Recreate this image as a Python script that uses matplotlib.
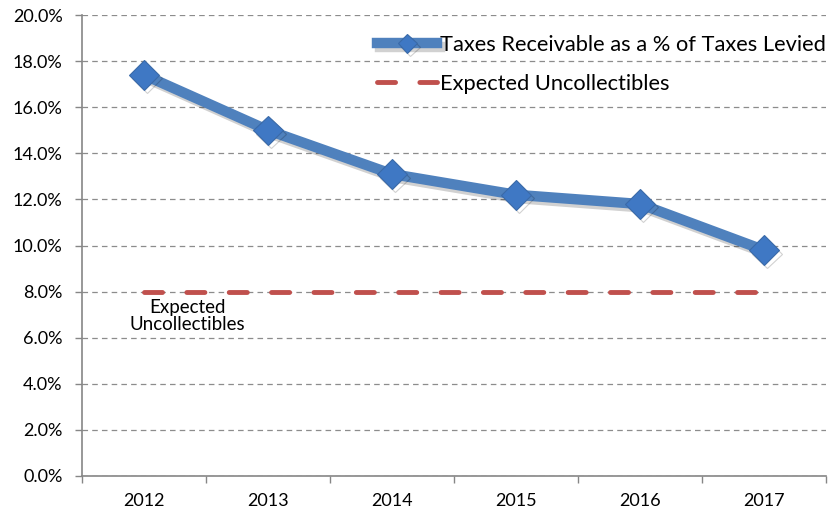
import matplotlib
matplotlib.use("Agg")
import matplotlib.pyplot as plt
import matplotlib.patheffects as pe
from matplotlib.ticker import FuncFormatter, FixedLocator, NullFormatter

plt.rcParams["font.family"] = ["Lato", "DejaVu Sans"]
plt.rcParams["lines.scale_dashes"] = False

years = ["2012", "2013", "2014", "2015", "2016", "2017"]
receivable_pct = [17.4, 15.0, 13.1, 12.2, 11.8, 9.8]
uncollectible_pct = [8.0, 8.0, 8.0, 8.0, 8.0, 8.0]

fig = plt.figure(figsize=(8.31, 5.11), dpi=100)
ax = fig.add_axes([0.0987, 0.0685, 0.8953, 0.9021])

x = list(range(len(years)))
# soft drop shadow under the blue series
shadow = [pe.SimpleLineShadow(offset=(2, -2.5), shadow_color="k", alpha=0.18),
          pe.Normal()]

ax.plot(x, uncollectible_pct, color="#c0504d", lw=3.5, dashes=(13, 17.5),
        dash_capstyle="round", zorder=3, label="Expected Uncollectibles")
ax.plot(x, receivable_pct, color="#4f81bd", lw=7.5, marker="D", markersize=15,
        markerfacecolor="#3f78c4", markeredgecolor="#3a6aa8", markeredgewidth=0.8,
        solid_joinstyle="round", zorder=4, path_effects=shadow,
        label="Taxes Receivable as a % of Taxes Levied")

ax.text(0.35, 6.95, "Expected\nUncollectibles", ha="center", va="center",
        fontsize=13.5, linespacing=1.0, zorder=5)

ax.set_xlim(-0.5, len(years) - 0.5)
ax.set_ylim(0, 20)
ax.set_yticks(range(0, 21, 2))
ax.yaxis.set_major_formatter(FuncFormatter(lambda v, _: f"{v:.1f}%"))
ax.set_xticks(x)
ax.set_xticklabels(years)
ax.xaxis.set_minor_locator(FixedLocator([i - 0.5 for i in range(len(years) + 1)]))
ax.xaxis.set_minor_formatter(NullFormatter())
ax.tick_params(axis="x", which="major", length=0, pad=12, labelsize=13)
ax.tick_params(axis="x", which="minor", length=5, color="#868686", width=1)
ax.tick_params(axis="y", length=5, color="#868686", width=1, labelsize=13, pad=9)

ax.grid(axis="y", color="#8c8c8c", lw=0.9, dashes=(4, 3))
ax.set_axisbelow(True)
for s in ("top", "right"):
    ax.spines[s].set_visible(False)
for s in ("left", "bottom"):
    ax.spines[s].set_color("#868686")
    ax.spines[s].set_linewidth(1.2)

handles, labels = ax.get_legend_handles_labels()
ax.legend(handles[::-1], labels[::-1], loc="upper right", bbox_to_anchor=(1.017, 0.985),
          frameon=False, fontsize=15.75, handlelength=2.75, handletextpad=0.1,
          labelspacing=0.85, borderaxespad=0.2, markerscale=0.65)

fig.savefig("out.png", dpi=100, facecolor="white")
